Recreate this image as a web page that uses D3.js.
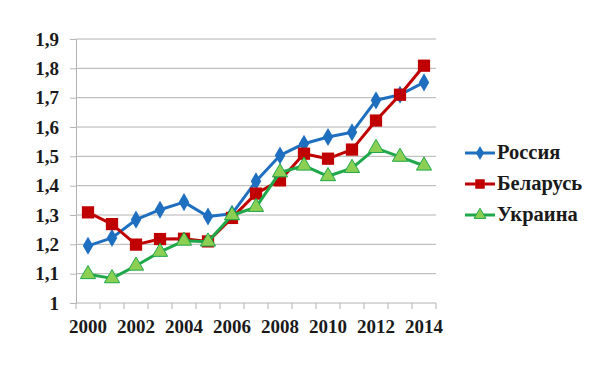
<!DOCTYPE html>
<html>
<head>
<meta charset="utf-8">
<script src="https://cdn.jsdelivr.net/npm/d3@7"></script>
<style>
	body { margin: 0; background: #fff; }
</style>
</head>
<body>
<svg id="chart" width="599" height="369"></svg>
<script>
/* Data */
const years = d3.range(2000, 2015);
const russia = [1.195, 1.222, 1.284, 1.318, 1.344, 1.295, 1.304, 1.415, 1.503, 1.543, 1.566, 1.582, 1.691, 1.71, 1.752];
const belarus = [1.309, 1.269, 1.199, 1.218, 1.219, 1.21, 1.29, 1.373, 1.418, 1.509, 1.492, 1.523, 1.622, 1.71, 1.809];
const ukraine = [1.098, 1.084, 1.127, 1.174, 1.212, 1.209, 1.299, 1.327, 1.445, 1.468, 1.432, 1.46, 1.528, 1.498, 1.468];
const yTicks = [1, 1.1, 1.2, 1.3, 1.4, 1.5, 1.6, 1.7, 1.8, 1.9];
const xLabels = [2000, 2002, 2004, 2006, 2008, 2010, 2012, 2014];

const FONT = "'Liberation Serif', 'Times New Roman', 'DejaVu Serif', serif";

const series = [
	{ name: "Россия", values: russia, color: "#1f6fc0", fill: "#1f6fc0", symbol: d3.symbolDiamond, size: 95 },
	{ name: "Беларусь", values: belarus, color: "#c00000", fill: "#c00000", symbol: d3.symbolSquare, size: 150 },
	{ name: "Украина", values: ukraine, color: "#1ea84a", fill: "#8ccf52", symbol: d3.symbolTriangle, size: 100 }
];

const svg = d3.select("#chart");
const margin = { left: 76, right: 163, top: 39, bottom: 66 };
const width = 599 - margin.left - margin.right;
const height = 369 - margin.top - margin.bottom;
const g = svg.append("g").attr("transform", `translate(${margin.left},${margin.top})`);

const x = d3.scaleBand().domain(years).range([0, width]);
const y = d3.scaleLinear().domain([1, 1.9]).range([height, 0]);
const fmt = (d) => String(d).replace(".", ",");

// gridlines
g.selectAll(".grid")
	.data(yTicks.slice(1))
	.enter().append("line")
	.attr("x1", 0).attr("x2", width)
	.attr("y1", (d) => y(d)).attr("y2", (d) => y(d))
	.attr("stroke", "#b3b3b3").attr("stroke-width", 1);

// y axis
const yAxis = g.append("g")
	.call(d3.axisLeft(y).tickValues(yTicks).tickSize(6).tickFormat(fmt))
	.attr("font-family", FONT)
	.attr("font-weight", "bold")
	.attr("font-size", 19);
yAxis.select(".domain").attr("stroke", "#b3b3b3");
yAxis.selectAll(".tick line").attr("stroke", "#b3b3b3");
yAxis.selectAll("text").attr("x", -17).attr("fill", "#1a1a1a");

// x axis
const xAxis = g.append("g").attr("transform", `translate(0,${height})`);
xAxis.append("line").attr("x1", 0).attr("x2", width).attr("stroke", "#b3b3b3");
xAxis.selectAll(".xt")
	.data(d3.range(years.length + 1))
	.enter().append("line")
	.attr("x1", (i) => i * x.step()).attr("x2", (i) => i * x.step())
	.attr("y1", 0).attr("y2", 6)
	.attr("stroke", "#b3b3b3");
xAxis.selectAll(".xl")
	.data(xLabels)
	.enter().append("text")
	.attr("x", (d) => x(d) + x.bandwidth() / 2)
	.attr("y", 30)
	.attr("text-anchor", "middle")
	.attr("font-family", FONT)
	.attr("font-weight", "bold")
	.attr("font-size", 19)
	.attr("fill", "#1a1a1a")
	.text((d) => d);

const line = d3.line()
	.x((d, i) => x(years[i]) + x.bandwidth() / 2)
	.y((d) => y(d));

series.forEach((s) => {
	g.append("path")
		.datum(s.values)
		.attr("fill", "none")
		.attr("stroke", s.color)
		.attr("stroke-width", 3)
		.attr("stroke-linejoin", "round")
		.attr("d", line);
	g.selectAll(null)
		.data(s.values)
		.enter().append("path")
		.attr("transform", (d, i) => `translate(${x(years[i]) + x.bandwidth() / 2},${y(d)})`)
		.attr("d", d3.symbol().type(s.symbol).size(s.size))
		.attr("fill", s.fill)
		.attr("stroke", s.color)
		.attr("stroke-width", s.symbol === d3.symbolTriangle ? 1 : 0);
});

// legend
const legend = svg.append("g").attr("transform", "translate(465,153)");
series.forEach((s, i) => {
	const row = legend.append("g").attr("transform", `translate(0,${i * 31})`);
	row.append("line").attr("x1", 0).attr("x2", 30)
		.attr("stroke", s.color).attr("stroke-width", 3);
	row.append("path")
		.attr("transform", "translate(15,0)")
		.attr("d", d3.symbol().type(s.symbol).size(s.size * 0.6))
		.attr("fill", s.fill)
		.attr("stroke", s.color)
		.attr("stroke-width", s.symbol === d3.symbolTriangle ? 1 : 0);
	row.append("text")
		.attr("x", 32).attr("y", 6)
		.attr("font-family", FONT)
		.attr("font-weight", "bold")
		.attr("font-size", 20.5)
		.attr("fill", "#1a1a1a")
		.text(s.name);
});
</script>
</body>
</html>
